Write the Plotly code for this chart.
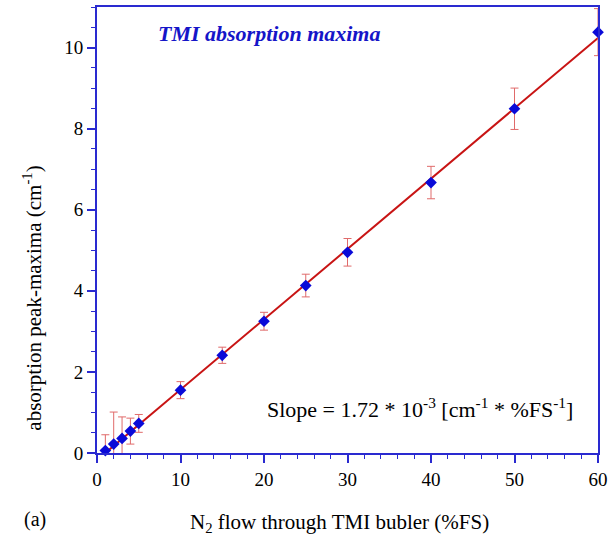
import numpy as np
import plotly.graph_objects as go

# Data
flow = [1, 2, 3, 4, 5, 10, 15, 20, 25, 30, 40, 50, 60]
peak = [0.06, 0.22, 0.36, 0.54, 0.73, 1.55, 2.41, 3.25, 4.13, 4.95, 6.67, 8.49, 10.38]
err = [0.39, 0.79, 0.53, 0.32, 0.22, 0.21, 0.20, 0.22, 0.28, 0.34, 0.40, 0.51, 0.58]

x_ticks = [0, 10, 20, 30, 40, 50, 60]
y_ticks = [0, 2, 4, 6, 8, 10]

slope, intercept = np.polyfit(flow, peak, 1)
x_start = max(-intercept / slope, 0)
fit_x = [x_start, 60]
fit_y = [slope * v + intercept for v in fit_x]

FONT = "Liberation Serif"
AXIS_BLUE = "#2a2ad0"

fig = go.Figure()
fig.add_trace(go.Scatter(
    x=fit_x, y=fit_y, mode="lines",
    line=dict(color="#c81414", width=2), hoverinfo="skip", showlegend=False))
# error bars (clipped to the plot area)
fig.add_trace(go.Scatter(
    x=flow, y=peak, mode="markers",
    marker=dict(size=1, opacity=0),
    error_y=dict(type="data", array=err, visible=True, color="#e06a6a",
                 thickness=1, width=4),
    cliponaxis=True, hoverinfo="skip", showlegend=False))
# markers (not clipped)
fig.add_trace(go.Scatter(
    x=flow, y=peak, mode="markers",
    marker=dict(symbol="diamond", size=9, color="#0a0ad8"),
    cliponaxis=False, showlegend=False))

axis_common = dict(
    showline=True, linecolor=AXIS_BLUE, linewidth=2, mirror=True,
    ticks="outside", tickcolor=AXIS_BLUE, tickwidth=1.5, ticklen=8,
    showgrid=False, zeroline=False,
    tickfont=dict(family=FONT, size=19, color="black"),
)

fig.update_xaxes(range=[0, 60], tickvals=x_ticks,
                 minor=dict(dtick=2, ticks="outside", ticklen=4,
                            tickcolor=AXIS_BLUE, tickwidth=1),
                 **axis_common)
fig.update_yaxes(range=[0, 11], tickvals=y_ticks,
                 minor=dict(dtick=0.5, ticks="outside", ticklen=4,
                            tickcolor=AXIS_BLUE, tickwidth=1),
                 **axis_common)

annotations = [
    dict(text="<b><i>TMI absorption maxima</i></b>", x=20.6, y=10.35,
         xref="x", yref="y", xanchor="center", yanchor="middle", showarrow=False,
         font=dict(family=FONT, size=22, color="#1515c8")),
    dict(text="Slope = 1.72 * 10<sup>-3</sup> [cm<sup>-1</sup> * %FS<sup>-1</sup>]",
         x=38.7, y=1.12, xref="x", yref="y", xanchor="center", yanchor="middle",
         showarrow=False, font=dict(family=FONT, size=22, color="black")),
    dict(text="absorption peak-maxima (cm<sup>-1</sup>)", textangle=-90,
         x=-0.128, y=0.348, xref="paper", yref="paper",
         xanchor="center", yanchor="middle", showarrow=False,
         font=dict(family=FONT, size=21, color="black")),
    dict(text="N<sub>2</sub> flow through TMI bubler (%FS)",
         x=0.485, y=-0.156, xref="paper", yref="paper",
         xanchor="center", yanchor="middle", showarrow=False,
         font=dict(family=FONT, size=21, color="black")),
    dict(text="(a)", x=-0.124, y=-0.150, xref="paper", yref="paper",
         xanchor="center", yanchor="middle",
         showarrow=False, font=dict(family=FONT, size=20, color="black")),
]

fig.update_layout(
    width=615, height=541,
    margin=dict(l=97, r=17, t=5, b=88),
    plot_bgcolor="white", paper_bgcolor="white",
    annotations=annotations,
    font=dict(family=FONT),
)

fig.write_html("out.html", config={"displayModeBar": False},
               post_script="document.body.style.margin='0';")
